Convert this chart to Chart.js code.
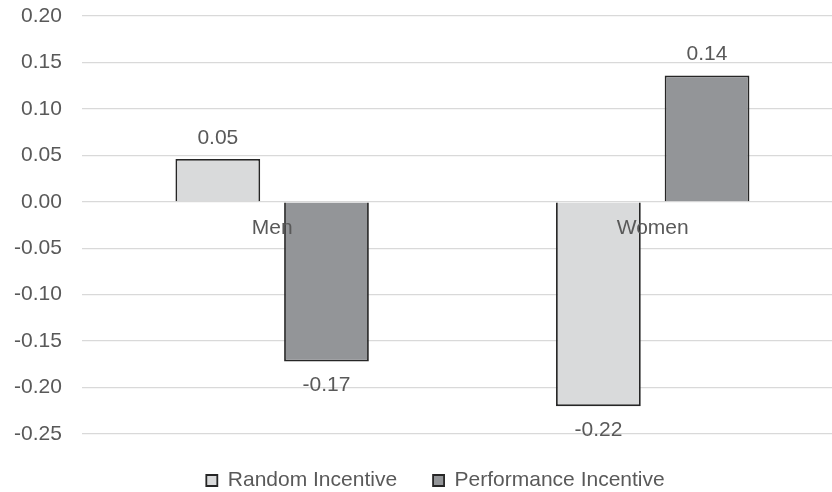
<!DOCTYPE html>
<html>
<head>
<meta charset="utf-8">
<script src="https://cdn.jsdelivr.net/npm/chart.js@4"></script>
<style>
  html, body { margin: 0; padding: 0; background: #fff; overflow: hidden; }
  #wrap { width: 832px; height: 492px; overflow: hidden; }
</style>
</head>
<body>
<div id="wrap"><canvas id="chart" width="852" height="492"></canvas></div>
<script>
const groups = ['Men', 'Women'];
const randomIncentive = [0.046, -0.220];
const performanceIncentive = [-0.172, 0.136];

const textGrey = '#595959';
const fontFamily = '"Liberation Sans", Arial, sans-serif';

// value labels above positive bars, below negative ones
const valueLabels = {
    id: 'valueLabels',
    afterDatasetsDraw(chart) {
        const ctx = chart.ctx;
        ctx.save();
        ctx.font = '21px ' + fontFamily;
        ctx.fillStyle = textGrey;
        ctx.textAlign = 'center';
        ctx.textBaseline = 'middle';
        chart.data.datasets.forEach((ds, i) => {
            chart.getDatasetMeta(i).data.forEach((bar, j) => {
                const v = ds.data[j];
                const y = v >= 0 ? bar.y - 21 : bar.y + 24;
                ctx.fillText(v.toFixed(2), bar.x, y);
            });
        });
        ctx.restore();
    }
};

// the legend sits a little right of the canvas centre in the original
const legendShift = {
    id: 'legendShift',
    afterLayout(chart) {
        chart.legend.left += 17;
        chart.legend.right += 17;
    }
};

new Chart('chart', {
    type: 'bar',
    data: {
        labels: groups,
        datasets: [{
            label: 'Random Incentive',
            data: randomIncentive,
            backgroundColor: '#d9dadb',
            borderColor: '#262626',
            borderWidth: 1.8,
        }, {
            label: 'Performance Incentive',
            data: performanceIncentive,
            backgroundColor: '#939598',
            borderColor: '#262626',
            borderWidth: 1.8,
        }],
    },
    options: {
        responsive: false,
        animation: false,
        devicePixelRatio: 1,
        categoryPercentage: 0.571,
        barPercentage: 0.78,
        layout: {
            padding: { top: 16, right: 9, left: -6, bottom: -9 }
        },
        scales: {
            x: {
                position: { y: 0 },
                grid: { display: false },
                border: { display: false },
                ticks: {
                    z: 1,
                    color: textGrey,
                    font: { family: fontFamily, size: 21 },
                    padding: 6,
                }
            },
            y: {
                min: -0.25,
                max: 0.2,
                grid: { color: '#d9d9d9', lineWidth: 1.3, drawTicks: false },
                border: { display: false },
                ticks: {
                    stepSize: 0.05,
                    padding: 20,
                    color: textGrey,
                    font: { family: fontFamily, size: 21 },
                    callback: v => Math.abs(v) < 1e-9 ? '0.00' : v.toFixed(2)
                },
                afterFit(scale) {
                    scale.paddingTop = 0;
                    scale.paddingBottom = 0;
                }
            }
        },
        plugins: {
            legend: {
                position: 'bottom',
                labels: {
                    boxWidth: 11,
                    boxHeight: 11,
                    padding: 36,
                    color: textGrey,
                    font: { family: fontFamily, size: 21 }
                }
            },
            tooltip: { enabled: false }
        }
    },
    plugins: [valueLabels, legendShift]
});
</script>
</body>
</html>
